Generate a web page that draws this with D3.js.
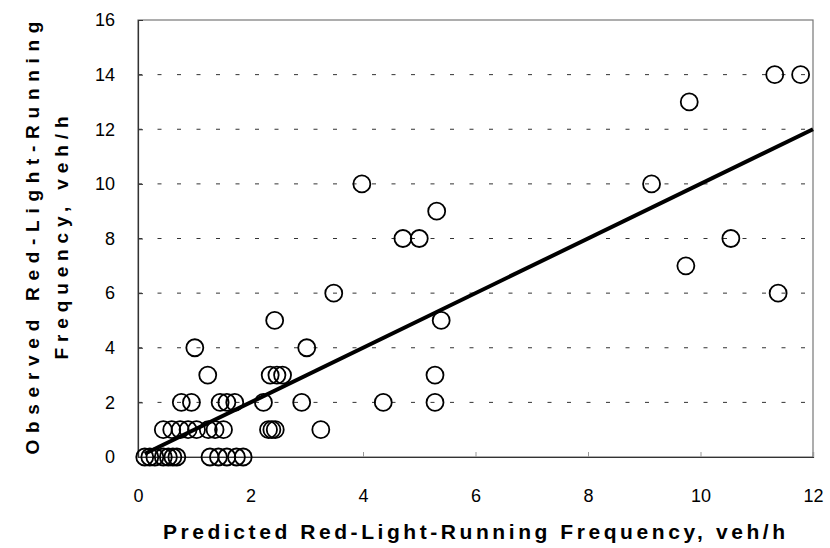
<!DOCTYPE html>
<html>
<head>
<meta charset="utf-8">
<script src="https://cdn.jsdelivr.net/npm/d3@7"></script>
<style>
  html, body { margin: 0; padding: 0; background: #fff; }
  svg { display: block; }
  text { font-family: "Liberation Sans", Arial, sans-serif; fill: #000; }
</style>
</head>
<body>
<svg id="chart" width="830" height="548"></svg>
<script>
// ---- data ----
const predicted = [
  11.32, 11.78,
  9.80,
  9.13, 3.98,
  5.31,
  10.54, 4.71, 5.00,
  9.74,
  11.38, 3.48,
  5.39, 2.43,
  1.01, 3.00,
  1.24, 2.35, 2.47, 2.57, 5.28,
  0.77, 0.95, 1.46, 1.58, 1.72, 2.23, 2.91, 4.36, 5.28,
  0.45, 0.60, 0.75, 0.89, 1.04, 1.25, 1.37, 1.52, 2.32, 2.38, 2.44, 3.25,
  0.12, 0.21, 0.30, 0.45, 0.54, 0.62, 0.69, 1.28, 1.43, 1.58, 1.75, 1.87
];
const observed = [
  14, 14,
  13,
  10, 10,
  9,
  8, 8, 8,
  7,
  6, 6,
  5, 5,
  4, 4,
  3, 3, 3, 3, 3,
  2, 2, 2, 2, 2, 2, 2, 2, 2,
  1, 1, 1, 1, 1, 1, 1, 1, 1, 1, 1, 1,
  0, 0, 0, 0, 0, 0, 0, 0, 0, 0, 0, 0
];
const fitX = [0.12, 12];
const fitSlope = 1.0;
const xTicks = [0, 2, 4, 6, 8, 10, 12];
const yTicks = [0, 2, 4, 6, 8, 10, 12, 14, 16];
const xTitle = "Predicted Red-Light-Running Frequency, veh/h";
const yTitle = ["Observed Red-Light-Running", "Frequency, veh/h"];

// ---- layout ----
const svg = d3.select("#chart");
const L = 138, R = 813, T = 20, B = 457;
const x = d3.scaleLinear().domain([0, 12]).range([L, R]);
const y = d3.scaleLinear().domain([0, 16]).range([B, T]);

// gridlines
svg.append("g").selectAll("line")
  .data(yTicks.filter(v => v > 0 && v < 16))
  .join("line")
  .attr("x1", L).attr("x2", R)
  .attr("y1", d => y(d)).attr("y2", d => y(d))
  .attr("stroke", "#333").attr("stroke-width", 1)
  .attr("stroke-dasharray", "4,15.5");

// frame
svg.append("rect")
  .attr("x", L).attr("y", T).attr("width", R - L).attr("height", B - T)
  .attr("fill", "none").attr("stroke", "#777").attr("stroke-width", 1.2);

// axes
const xAxis = d3.axisBottom(x).tickValues(xTicks).tickSize(-5).tickPadding(32)
  .tickFormat(d3.format("d"));
const gx = svg.append("g").attr("transform", `translate(0,${B})`).call(xAxis);
gx.select(".domain").attr("stroke", "#333").attr("stroke-width", 1.2);
gx.selectAll(".tick line").attr("stroke", "#999");
gx.selectAll(".tick text").attr("font-size", 18)
  .style("font-family", '"Liberation Sans", Arial, sans-serif');

const yAxis = d3.axisLeft(y).tickValues(yTicks).tickSize(-5).tickPadding(23)
  .tickFormat(d3.format("d"));
const gy = svg.append("g").attr("transform", `translate(${L},0)`).call(yAxis);
gy.select(".domain").attr("stroke", "#333").attr("stroke-width", 1.2);
gy.selectAll(".tick line").attr("stroke", "#333");
gy.selectAll(".tick text").attr("font-size", 18)
  .style("font-family", '"Liberation Sans", Arial, sans-serif');

// fit line
svg.append("line")
  .attr("x1", x(fitX[0])).attr("y1", y(fitX[0] * fitSlope))
  .attr("x2", x(fitX[1])).attr("y2", y(fitX[1] * fitSlope))
  .attr("stroke", "#000").attr("stroke-width", 4);

// points
svg.append("g").selectAll("circle")
  .data(predicted.map((p, i) => [p, observed[i]]))
  .join("circle")
  .attr("cx", d => x(d[0])).attr("cy", d => y(d[1]))
  .attr("r", 8.5)
  .attr("fill", "none").attr("stroke", "#000").attr("stroke-width", 1.8);

// titles
svg.append("text")
  .attr("x", 474).attr("y", 539)
  .attr("text-anchor", "middle")
  .attr("font-size", 21).attr("font-weight", "bold")
  .attr("textLength", 622).attr("lengthAdjust", "spacing")
  .text(xTitle);

const yt = [ {t: yTitle[0], cx: 32, len: 433}, {t: yTitle[1], cx: 61, len: 243} ];
svg.append("g").selectAll("text")
  .data(yt)
  .join("text")
  .attr("transform", d => `translate(${d.cx + 7},238) rotate(-90)`)
  .attr("text-anchor", "middle")
  .attr("font-size", 19).attr("font-weight", "bold")
  .attr("textLength", d => d.len).attr("lengthAdjust", "spacing")
  .text(d => d.t);
</script>
</body>
</html>
